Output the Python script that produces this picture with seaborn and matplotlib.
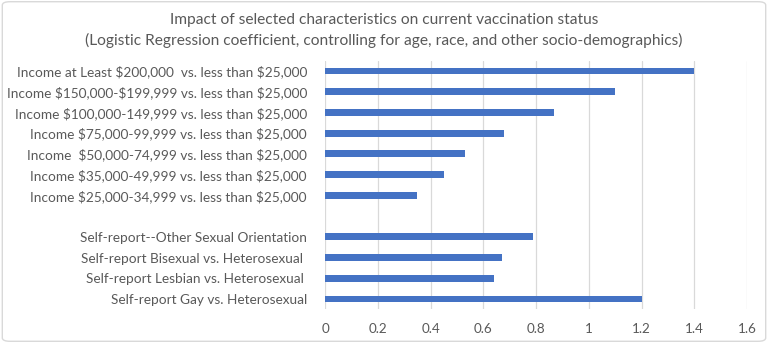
import matplotlib
matplotlib.use("Agg")
import matplotlib.pyplot as plt
import seaborn as sns
import pandas as pd
import numpy as np
from matplotlib.patches import FancyBboxPatch

categories = [
    "Income at Least $200,000  vs. less than $25,000",
    "Income $150,000-$199,999 vs. less than $25,000",
    "Income $100,000-149,999 vs. less than $25,000",
    "Income $75,000-99,999 vs. less than $25,000",
    "Income  $50,000-74,999 vs. less than $25,000",
    "Income $35,000-49,999 vs. less than $25,000",
    "Income $25,000-34,999 vs. less than $25,000",
    " ",
    "Self-report--Other Sexual Orientation",
    "Self-report Bisexual vs. Heterosexual ",
    "Self-report Lesbian vs. Heterosexual ",
    "Self-report Gay vs. Heterosexual",
]
values = [1.40, 1.10, 0.87, 0.68, 0.53, 0.45, 0.35, 0.0, 0.79, 0.67, 0.64, 1.20]
x_ticks = [0, 0.2, 0.4, 0.6, 0.8, 1.0, 1.2, 1.4, 1.6]
x_tick_labels = ["0", "0.2", "0.4", "0.6", "0.8", "1", "1.2", "1.4", "1.6"]
title = ("Impact of selected characteristics on current vaccination status\n"
         "(Logistic Regression coefficient, controlling for age, race, and other socio-demographics)")

sns.set_style("white")
plt.rcParams['font.family'] = ['Lato', 'DejaVu Sans']
plt.rcParams['text.parse_math'] = False

TEXT = "#595959"
BAR = "#4472C4"
GRID = "#D9D9D9"

df = pd.DataFrame({"category": categories, "value": values})

fig = plt.figure(figsize=(7.68, 3.43), dpi=100)
ax = fig.add_axes([325/768, 1 - 309.4/343, (747 - 325)/768, 248.8/343])

sns.barplot(data=df, y="category", x="value", order=categories, orient="h",
            color=BAR, saturation=1, width=0.33, linewidth=0, ax=ax)

ax.set_xlim(0, 1.6)
ax.set_xticks(x_ticks)
ax.set_xticklabels(x_tick_labels)
ax.set_xlabel("")
ax.set_ylabel("")
ax.xaxis.grid(True, color=GRID, linewidth=0.9)
ax.set_axisbelow(True)
for s in ax.spines.values():
    s.set_visible(False)
ax.tick_params(axis="both", length=0, colors=TEXT)
ax.tick_params(axis="x", labelsize=9.7, pad=10)
ax.tick_params(axis="y", labelsize=9.8, pad=13)

fig.text(0.5, 0.962, title, ha="center", va="top", fontsize=11.2, color=TEXT,
         linespacing=1.5)

border = FancyBboxPatch((0.003, 0.005), 0.994, 0.99, boxstyle="round,pad=0,rounding_size=0.01",
                        transform=fig.transFigure, fill=False, edgecolor=GRID, linewidth=1.0)
fig.patches.append(border)

fig.savefig("out.png", dpi=100)
